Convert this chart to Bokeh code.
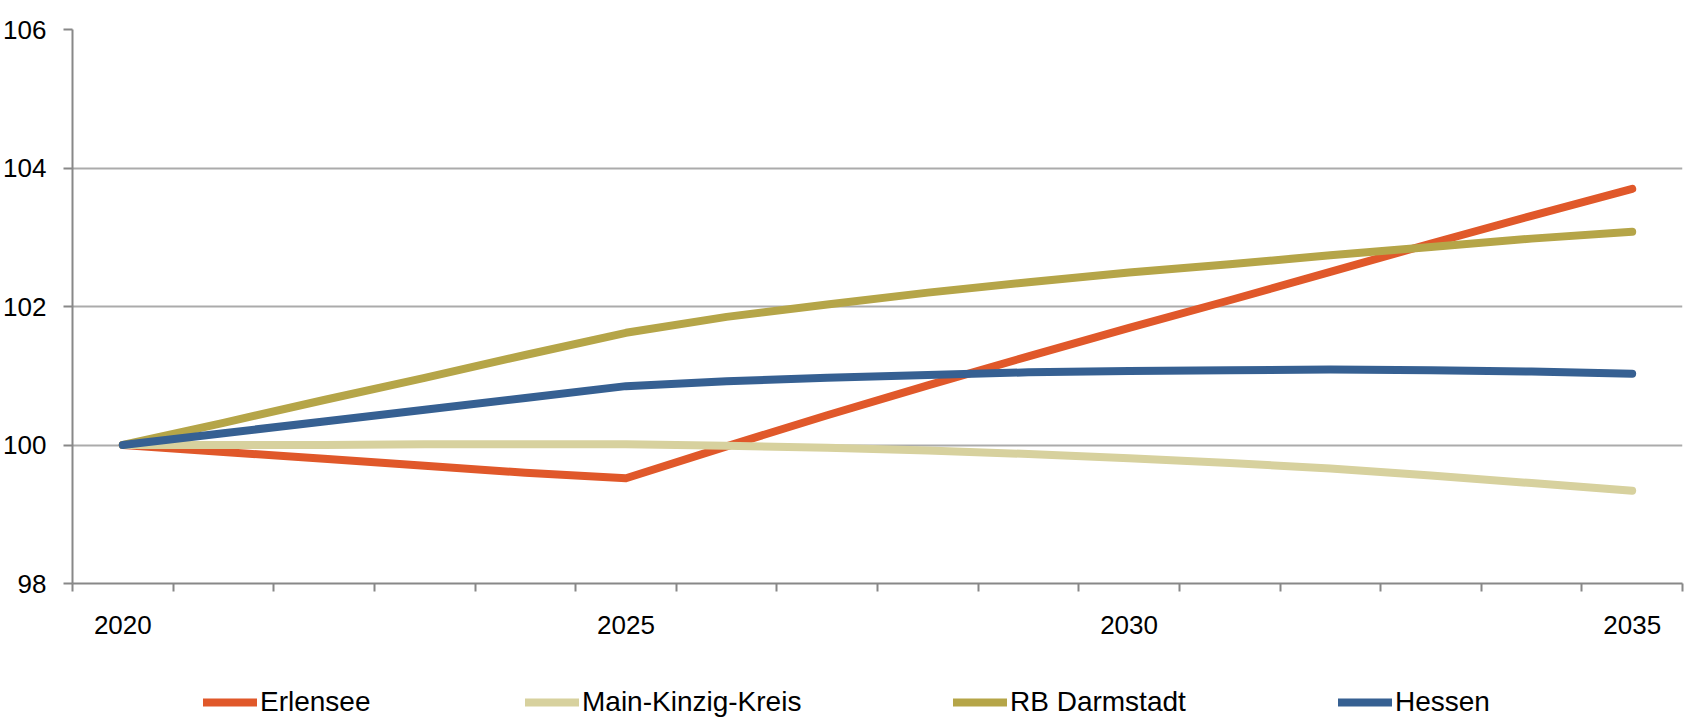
from bokeh.plotting import figure
from bokeh.models import Range1d, FixedTicker, Legend, LegendItem
from bokeh.layouts import column
from bokeh.embed import file_html
from bokeh.resources import INLINE

years = [2020, 2021, 2022, 2023, 2024, 2025, 2026, 2027, 2028, 2029, 2030, 2031, 2032, 2033, 2034, 2035]
erlensee = [100.0, 99.9, 99.8, 99.7, 99.6, 99.52, 99.98, 100.43, 100.86, 101.28, 101.69, 102.09, 102.5, 102.91, 103.31, 103.7]
main_kinzig = [100.0, 100.0, 100.0, 100.01, 100.01, 100.01, 99.99, 99.96, 99.92, 99.87, 99.81, 99.74, 99.66, 99.56, 99.45, 99.34]
rb_darmstadt = [100.0, 100.32, 100.65, 100.97, 101.3, 101.62, 101.85, 102.03, 102.2, 102.35, 102.49, 102.61, 102.74, 102.86, 102.98, 103.08]
hessen = [100.0, 100.17, 100.34, 100.51, 100.68, 100.85, 100.92, 100.97, 101.01, 101.05, 101.07, 101.08, 101.09, 101.08, 101.06, 101.03]
series = [erlensee, main_kinzig, rb_darmstadt, hessen]
series_names = ["Erlensee", "Main-Kinzig-Kreis", "RB Darmstadt", "Hessen"]
series_colors = ["#E0582A", "#D7D19E", "#B5A548", "#366092"]
x_tick_labels = [2020, 2025, 2030, 2035]
y_ticks = [98, 100, 102, 104, 106]

FONT = "Liberation Sans Narrow, Liberation Sans"
AXIS_GREY = "#888888"

p = figure(width=1685, height=658, output_backend="svg", toolbar_location=None,
           x_range=Range1d(years[0] - 0.5, years[-1] + 0.5), y_range=Range1d(98, 106),
           min_border_left=66, min_border_right=3, min_border_top=29, min_border_bottom=75)
p.outline_line_color = None

p.xgrid.visible = False
p.ygrid.grid_line_color = "#ABABAB"
p.ygrid.grid_line_width = 2
p.ygrid.ticker = FixedTicker(ticks=y_ticks)

for vals, col in zip(series, series_colors):
    p.line(years, vals, line_color=col, line_width=8, line_cap="round", line_join="round")

xa = p.xaxis[0]
xa.ticker = FixedTicker(ticks=x_tick_labels, minor_ticks=[y - 0.5 for y in years] + [years[-1] + 0.5])
xa.axis_line_color = AXIS_GREY
xa.axis_line_width = 2
xa.major_tick_out = 0
xa.major_tick_in = 0
xa.minor_tick_out = 8
xa.minor_tick_in = 0
xa.minor_tick_line_color = AXIS_GREY
xa.minor_tick_line_width = 2
xa.major_label_standoff = 24
xa.major_label_text_font = FONT
xa.major_label_text_font_size = "26px"
xa.major_label_text_color = "black"

ya = p.yaxis[0]
ya.ticker = FixedTicker(ticks=y_ticks)
ya.axis_line_color = AXIS_GREY
ya.axis_line_width = 2
ya.major_tick_out = 9
ya.major_tick_in = 0
ya.major_tick_line_color = AXIS_GREY
ya.major_tick_line_width = 2
ya.minor_tick_out = 0
ya.minor_tick_in = 0
ya.major_label_standoff = 17
ya.major_label_text_font = FONT
ya.major_label_text_font_size = "26px"
ya.major_label_text_color = "black"

# legend strip below the chart
lg = figure(width=1685, height=60, output_backend="svg", toolbar_location=None,
            x_range=Range1d(0, 1), y_range=Range1d(0, 1),
            x_axis_location=None, y_axis_location=None,
            min_border_left=0, min_border_right=0, min_border_top=0, min_border_bottom=0)
lg.outline_line_color = None
lg.grid.visible = False

legend_x = [131, 453, 881, 1266]
for vals, col, name, lx in zip(series, series_colors, series_names, legend_x):
    r = lg.line(years, vals, line_color=col, line_width=8, line_cap="round", line_join="round")
    leg = Legend(items=[LegendItem(label=name, renderers=[r])], location=(lx, 0),
                 glyph_width=54, glyph_height=30, label_standoff=3,
                 padding=0, margin=0, border_line_color=None, background_fill_alpha=0,
                 label_text_font=FONT, label_text_font_size="28px", label_text_color="black",
                 label_height=30, inactive_fill_alpha=0)
    lg.add_layout(leg)

page = column(p, lg, spacing=0)
open("out.html", "w").write(file_html(page, INLINE))
